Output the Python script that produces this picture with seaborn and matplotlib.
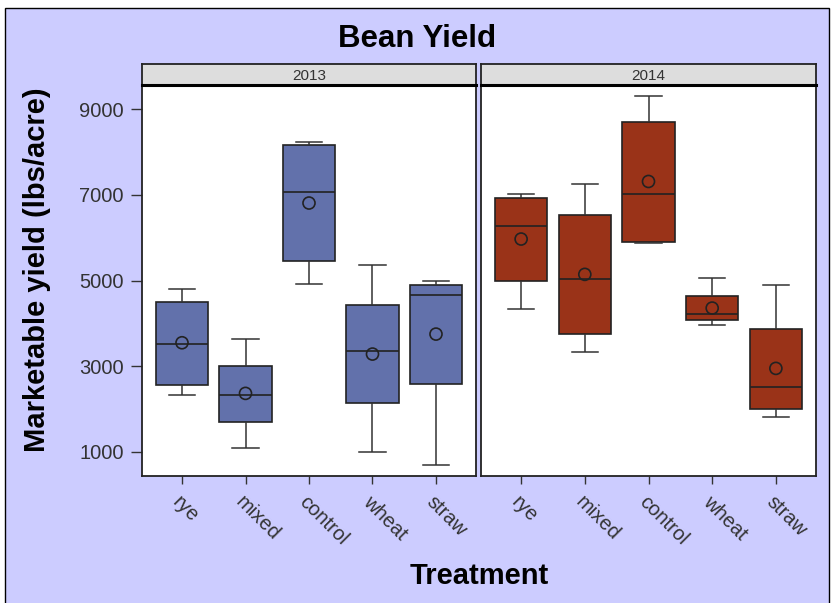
import numpy as np
import pandas as pd
import matplotlib
matplotlib.use("Agg")
import matplotlib.pyplot as plt
from matplotlib.patches import Rectangle
import seaborn as sns

# ---- data ----
treatments = ["rye", "mixed", "control", "wheat", "straw"]
years = ["2013", "2014"]

min_2013 = [2334, 1097, 4910, 1004, 694]
q1_2013 = [2560, 1704, 5461, 2133, 2590]
med_2013 = [3524, 2334, 7071, 3354, 4653]
q3_2013 = [4504, 3004, 8168, 4420, 4900]
max_2013 = [4793, 3634, 8223, 5360, 4987]
mean_2013 = [3548, 2367, 6807, 3284, 3750]

min_2014 = [4334, 3323, 5873, 3953, 1814]
q1_2014 = [4994, 3750, 5890, 4070, 1994]
med_2014 = [6270, 5026, 7017, 4210, 2507]
q3_2014 = [6931, 6527, 8690, 4646, 3874]
max_2014 = [7017, 7250, 9296, 5050, 4900]
mean_2014 = [5967, 5143, 7310, 4357, 2950]

yticks = [1000, 3000, 5000, 7000, 9000]

stats = {
    "2013": (min_2013, q1_2013, med_2013, q3_2013, max_2013, mean_2013),
    "2014": (min_2014, q1_2014, med_2014, q3_2014, max_2014, mean_2014),
}
colors = {"2013": "#6271AB", "2014": "#9A3318"}

FONT = ["Liberation Sans", "DejaVu Sans"]
plt.rcParams["font.family"] = FONT

W, H = 833, 603
fig = plt.figure(figsize=(W / 100, H / 100), dpi=100, facecolor="white")
fig.patches.append(Rectangle((5 / W, -0.01), (829 - 5) / W, (603 - 8) / H + 0.01,
                             transform=fig.transFigure, facecolor="#CCCCFF",
                             edgecolor="black", linewidth=1.0, zorder=-10))

edge = "#222222"
panels = [(142, 476), (481, 816)]
top_px, bot_px, strip_top = 85, 476, 64

for i, (yr, (x0, x1)) in enumerate(zip(years, panels)):
    ax = fig.add_axes([x0 / W, (H - bot_px) / H, (x1 - x0) / W, (bot_px - top_px) / H])
    ax.set_facecolor("white")
    mn, q1, md, q3, mx, mean = stats[yr]
    df = pd.DataFrame({
        "Treatment": np.repeat(treatments, 5),
        "Yield": np.ravel(np.column_stack([mn, q1, md, q3, mx])),
    })
    sns.boxplot(data=df, x="Treatment", y="Yield", order=treatments, ax=ax,
                color=colors[yr], saturation=1, width=0.82, whis=np.inf,
                linewidth=1.2, linecolor=edge, showfliers=False,
                boxprops=dict(edgecolor=edge),
                medianprops=dict(color=edge, linewidth=1.2),
                whiskerprops=dict(color="#333333", linewidth=1.1),
                capprops=dict(color="#333333", linewidth=1.1))
    ax.scatter(np.arange(len(treatments)), mean, s=75, facecolors="none",
               edgecolors=edge, linewidths=1.2, zorder=5)
    ax.set_xlim(-0.63, 4.63)
    ax.set_ylim(440, 9560)
    ax.set_xlabel("")
    ax.set_ylabel("")
    for sp in ax.spines.values():
        sp.set_color("#222222")
        sp.set_linewidth(1.3)
    ax.tick_params(axis="x", length=6, width=1, color="#333333", pad=6)
    ax.set_xticks(range(len(treatments)))
    ax.set_xticklabels(treatments, rotation=-45, ha="left", va="top",
                       rotation_mode="anchor", fontsize=14.5, color="#333333")
    if i == 0:
        ax.set_yticks(yticks)
        ax.set_yticklabels([str(t) for t in yticks], fontsize=14.5, color="#333333")
        ax.tick_params(axis="y", length=8, width=1, color="#333333", pad=5)
    else:
        ax.set_yticks([])

    # strip
    sax = fig.add_axes([x0 / W, (H - top_px) / H, (x1 - x0) / W, (top_px - strip_top) / H])
    sax.set_facecolor("#DDDDDD")
    sax.set_xticks([])
    sax.set_yticks([])
    for sp in sax.spines.values():
        sp.set_color("#222222")
        sp.set_linewidth(1.3)
    sax.spines["bottom"].set_linewidth(2.2)
    sax.spines["bottom"].set_color("black")
    sax.text(0.5, 0.45, yr, transform=sax.transAxes, ha="center", va="center",
             fontsize=11, color="#333333")

fig.text(417.5 / W, 1 - 39 / H, "Bean Yield", ha="center", va="center",
         fontsize=22.5, fontweight="bold", color="black")
fig.text(479 / W, 1 - 576 / H, "Treatment", ha="center", va="center",
         fontsize=21, fontweight="bold", color="black")
fig.text(37 / W, 1 - 270 / H, "Marketable yield (lbs/acre)", ha="center", va="center",
         rotation=90, fontsize=21, fontweight="bold", color="black")

fig.savefig("out.png", dpi=100, facecolor=fig.get_facecolor())
